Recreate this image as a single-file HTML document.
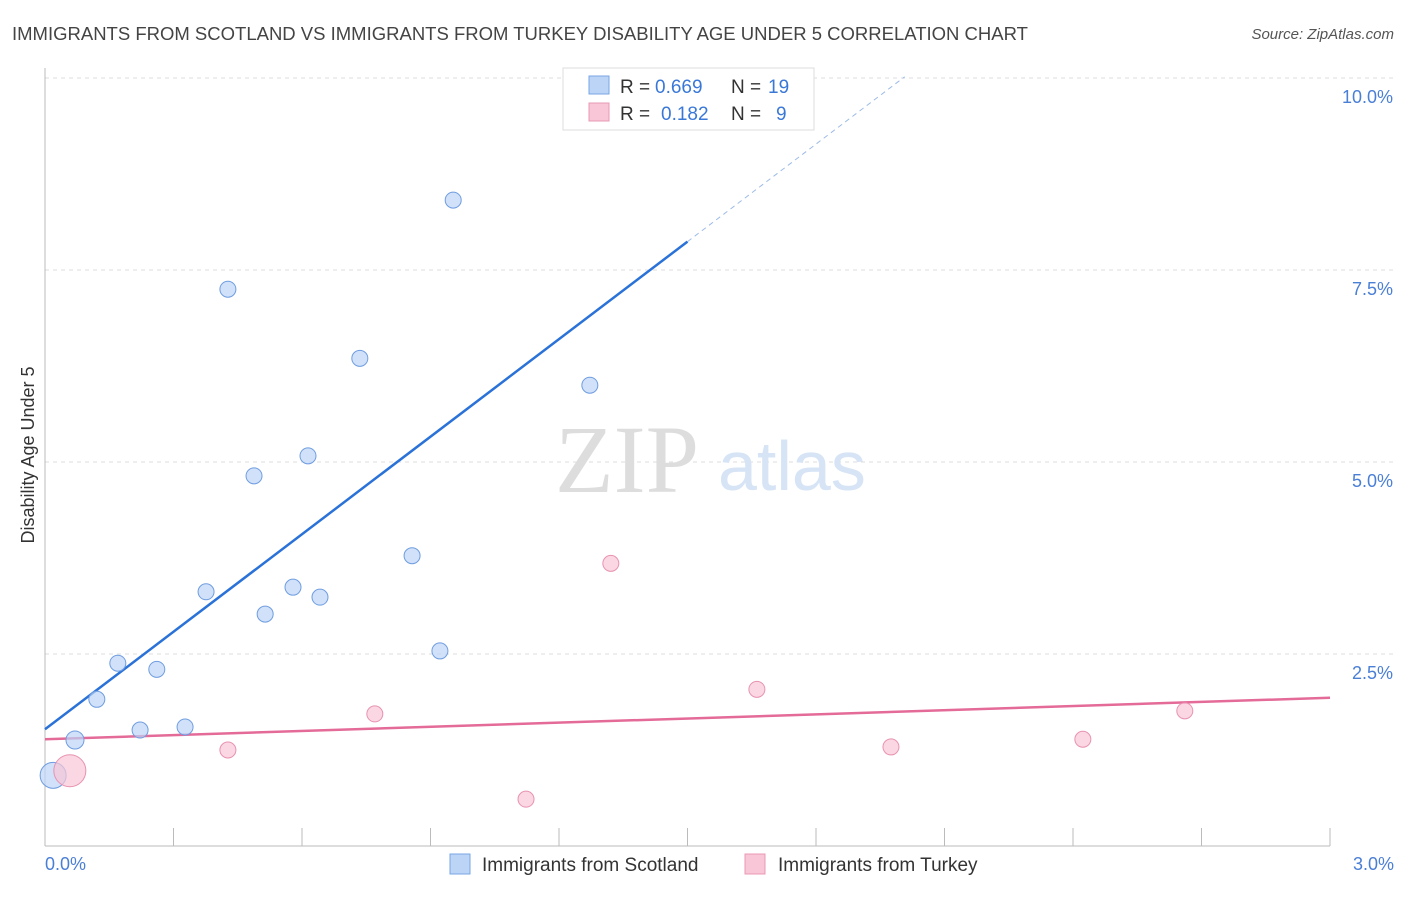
<!DOCTYPE html>
<html><head><meta charset="utf-8"><style>
body{margin:0;background:#fff;font-family:"Liberation Sans",sans-serif}
</style></head><body>
<svg id="chart" width="1406" height="892" xmlns="http://www.w3.org/2000/svg">
<text x="12" y="40" font-size="18.5" fill="#444">IMMIGRANTS FROM SCOTLAND VS IMMIGRANTS FROM TURKEY DISABILITY AGE UNDER 5 CORRELATION CHART</text>
<text x="1394" y="39" font-size="15" fill="#555" font-style="italic" text-anchor="end">Source: ZipAtlas.com</text>
<g id="grid"></g>
<g id="yticks"></g>
<line x1="45" y1="68" x2="45" y2="846" stroke="#bbb"/>
<line x1="45" y1="846" x2="1330" y2="846" stroke="#bbb"/>
<g id="xticks"></g>
<text x="45" y="870" font-size="18" fill="#4a7fd6">0.0%</text>
<text x="1394" y="870" font-size="18" fill="#4a7fd6" text-anchor="end">3.0%</text>
<text transform="translate(34,455) rotate(-90)" font-size="18" fill="#333" text-anchor="middle">Disability Age Under 5</text>
<text x="555" y="492" font-size="96" fill="#ddd" font-family="Liberation Serif,serif">ZIP</text>
<text x="718" y="490" font-size="70" fill="#d6e4f6">atlas</text>
<g id="lines"></g>
<g id="points"></g>
<g>
<rect x="563" y="68" width="251" height="62" fill="#fff" stroke="#ddd"/>
<rect x="589" y="76" width="20" height="18" fill="#bcd4f6" stroke="#7aa6e6"/>
<rect x="589" y="103" width="20" height="18" fill="#f8c6d6" stroke="#e898b4"/>
<text y="93" font-size="19" fill="#333"><tspan x="620">R =</tspan><tspan x="655" fill="#3a78d8">0.669</tspan><tspan x="731">N =</tspan><tspan x="768" fill="#3a78d8">19</tspan></text>
<text y="120" font-size="19" fill="#333"><tspan x="620">R =</tspan><tspan x="661" fill="#3a78d8">0.182</tspan><tspan x="731">N =</tspan><tspan x="776" fill="#3a78d8">9</tspan></text>
</g>
<g>
<rect x="450" y="854" width="20" height="20" fill="#bcd4f6" stroke="#7aa6e6"/>
<text x="482" y="871" font-size="19" fill="#333">Immigrants from Scotland</text>
<rect x="745" y="854" width="20" height="20" fill="#f8c6d6" stroke="#e898b4"/>
<text x="778" y="871" font-size="19" fill="#333">Immigrants from Turkey</text>
</g>
</svg>
<script>
const yTicks=[2.5,5.0,7.5,10.0];
const yTickLabels=["2.5%","5.0%","7.5%","10.0%"];
const xTicks=[0.3,0.6,0.9,1.2,1.5,1.8,2.1,2.4,2.7,3.0];
const scotX=[0.019,0.070,0.121,0.170,0.222,0.261,0.327,0.376,0.427,0.488,0.514,0.579,0.614,0.642,0.735,0.857,0.922,0.953,1.272];
const scotY=[0.92,1.38,1.91,2.38,1.51,2.30,1.55,3.31,7.25,4.82,3.02,3.37,5.08,3.24,6.35,3.78,2.54,8.41,6.00];
const scotR=[13,9,8,8,8,8,8,8,8,8,8,8,8,8,8,8,8,8,8];
const turkX=[0.058,0.427,0.770,1.123,1.321,1.662,1.975,2.423,2.661];
const turkY=[0.98,1.25,1.72,0.61,3.68,2.04,1.29,1.39,1.76];
const turkR=[16,8,8,8,8,8,8,8,8];
const scotTrend=[1.52,4.233];
const turkTrend=[1.39,0.18];
const NS="http://www.w3.org/2000/svg";
const X=v=>45+v/3*1285, Y=v=>846-v*76.8;
function mk(t,a,p){const e=document.createElementNS(NS,t);for(const k in a)e.setAttribute(k,a[k]);p.appendChild(e);return e;}
const g=document.getElementById('grid'),yt=document.getElementById('yticks'),xt=document.getElementById('xticks');
yTicks.forEach((v,i)=>{
 const l=mk('line',{x1:45,x2:1394,y1:Y(v),y2:Y(v),stroke:'#ddd','stroke-dasharray':'4,4'},g);
 
 
 const t=mk('text',{x:1393,y:Y(v)+25,'font-size':18,fill:'#4a7fd6','text-anchor':'end'},yt);
 t.textContent=yTickLabels[i];
 
 
});
xTicks.forEach(v=>{
 const l=mk('line',{x1:X(v),x2:X(v),y1:828,y2:846,stroke:'#bbb'},xt);
 
 
});
const L=document.getElementById('lines');
const b1=mk('line',{x1:X(0),y1:Y(scotTrend[0]),x2:X(1.5),y2:Y(scotTrend[0]+scotTrend[1]*1.5),stroke:'#2a72d8','stroke-width':2.5},L);


const b2=mk('line',{x1:X(1.5),y1:Y(scotTrend[0]+scotTrend[1]*1.5),x2:X(2.007),y2:Y(scotTrend[0]+scotTrend[1]*2.007),stroke:'#9dbbe6','stroke-width':1,'stroke-dasharray':'5,4'},L);


const p1=mk('line',{x1:X(0),y1:Y(turkTrend[0]),x2:X(3),y2:Y(turkTrend[0]+turkTrend[1]*3),stroke:'#e46a98','stroke-width':2.5},L);


const P=document.getElementById('points');
scotX.forEach((v,i)=>{
 const c=mk('circle',{cx:X(v),cy:Y(scotY[i]),r:scotR[i],fill:'#bcd4f6','fill-opacity':0.7,stroke:'#6f9de0','stroke-width':1},P);
 
 
});
turkX.forEach((v,i)=>{
 const c=mk('circle',{cx:X(v),cy:Y(turkY[i]),r:turkR[i],fill:'#f8c6d6','fill-opacity':0.7,stroke:'#e892b2','stroke-width':1},P);
 
 
});
</script>
</body></html>
